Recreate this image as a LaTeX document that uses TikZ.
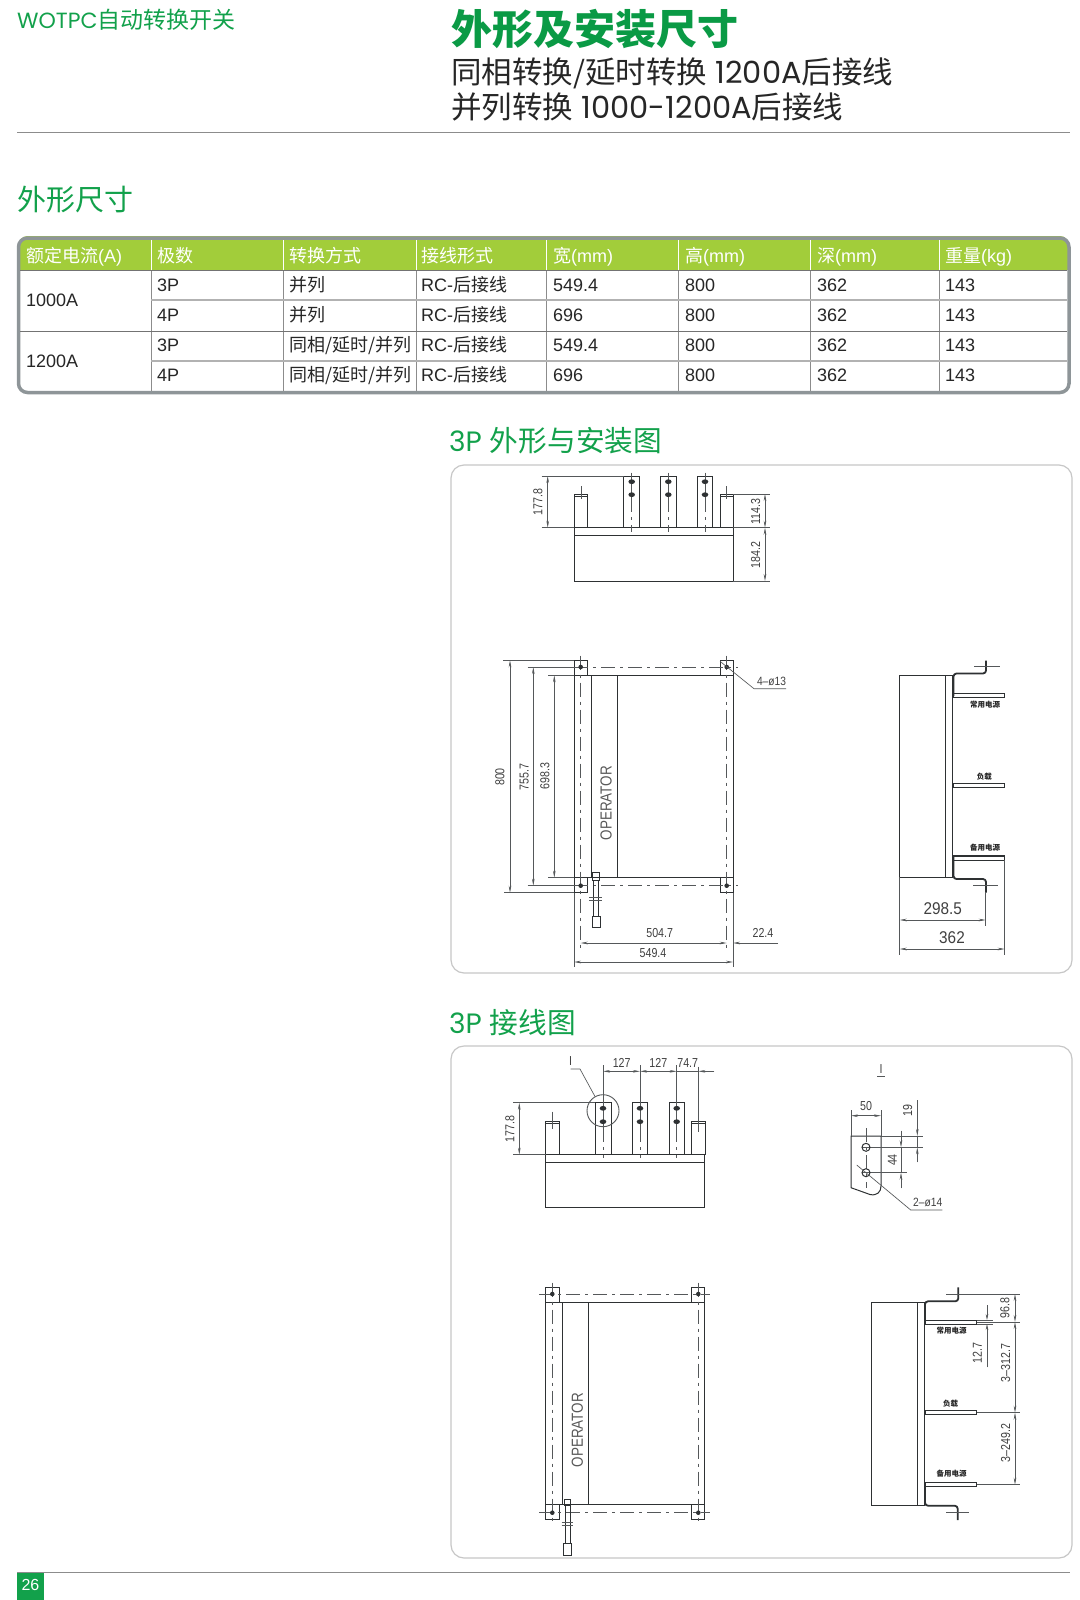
\documentclass[tikz,border=0pt]{standalone}
\usepackage{fontspec}
\setmainfont{Liberation Sans}
\newfontfamily\cj{Noto Sans CJK SC}
\newfontfamily\pop{Poppins}
\usetikzlibrary{arrows.meta}
\definecolor{brandgreen}{HTML}{12A14B}
\definecolor{titlegreen}{HTML}{0A9A45}
\definecolor{headgreen}{HTML}{A2CD3A}
\definecolor{tborder}{HTML}{8E9598}
\definecolor{inkc}{HTML}{2E3133}
\definecolor{thinc}{HTML}{55585A}
\newcommand\fs[1]{\fontsize{#1}{#1}\selectfont}
\tikzset{
  txt/.style={inner sep=0pt,anchor=base west,text=#1},
  txt/.default=black,
  ol/.style={draw=inkc,line width=1pt},
  thk/.style={draw=inkc,line width=1.8pt,line join=round,rounded corners=3pt},
  thn/.style={draw=thinc,line width=0.65pt},
  cen/.style={draw=thinc,line width=0.75pt,dash pattern=on 14pt off 5pt on 3pt off 5pt},
  dimn/.style={thn,{Stealth[length=7pt,width=2.6pt]}-{Stealth[length=7pt,width=2.6pt]}},
  dimt/.style={inner sep=0pt,text=black!75,xscale=.82,font=\fs{13}},
  dimv/.style={rotate=90,dimt},
  panel/.style={draw=black!22,line width=1.2pt,rounded corners=13pt},
  rowt/.style={inner sep=0pt,anchor=base west,font=\fs{18},text=black!85},
  headt/.style={inner sep=0pt,anchor=base west,font=\fs{18},text=white},
  opt/.style={inner sep=0pt,text=black!65,rotate=90,xscale=.84,font=\fs{16}},
  lab/.style={inner sep=0pt,text=black!85,font=\cj\bfseries\fs{7.5}},
  hole/.style={fill=inkc,draw=none},
}
\begin{document}
\begin{tikzpicture}[x=1pt,y=-1pt]
\useasboundingbox (0,0) rectangle (1079,1600);
\fill[white] (0,0) rectangle (1079,1600);

% header
\node[txt=brandgreen,font=\fs{22}] (hd) at (17,29) {{\pop WOTPC}{\cj\fs{23}自动转换开关}};
\node[txt=titlegreen,font=\cj\bfseries\fs{41}] (title) at (451,45) {外形及安装尺寸};
\node[txt=black!85,font=\fs{30.5}] (sub1) at (451,84) {{\cj 同相转换/延时转换} {\pop 1200A}{\cj 后接线}};
\node[txt=black!85,font=\fs{30.5}] (sub2) at (451,119) {{\cj 并列转换} {\pop 1000-1200A}{\cj 后接线}};
\draw[draw=black!45,line width=1pt] (17,133) -- (1070,133);
\node[txt=brandgreen,font=\cj\fs{29}] (sec) at (17,210) {外形尺寸};

% table
\begin{scope}
\clip[rounded corners=9pt] (18.5,236) rectangle (1069,394);
\fill[headgreen] (18.5,236) rectangle (1069,270);
\end{scope}
\draw[tborder,line width=3.5pt,rounded corners=9pt] (18.5,238) rectangle (1069,392.5);
\foreach \x in {151,283,416,546,678,810,939} {
  \draw[white,line width=.8pt] (\x,240) -- (\x,270);
  \draw[black!45,line width=.7pt] (\x,270) -- (\x,391);
}
\draw[black!55,line width=.7pt] (20,270) -- (1067,270);
\draw[black!30,line width=1.1pt] (151,300) -- (1067,300);
\draw[black!55,line width=.8pt] (20,331) -- (1067,331);
\draw[black!30,line width=1.1pt] (151,361) -- (1067,361);

\node[headt] (h1) at (26,262) {{\cj 额定电流}(A)};
\node[headt] (h2) at (157,262) {{\cj 极数}};
\node[headt] (h3) at (289,262) {{\cj 转换方式}};
\node[headt] (h4) at (421,262) {{\cj 接线形式}};
\node[headt] (h5) at (553,262) {{\cj 宽}(mm)};
\node[headt] (h6) at (685,262) {{\cj 高}(mm)};
\node[headt] (h7) at (817,262) {{\cj 深}(mm)};
\node[headt] (h8) at (945,262) {{\cj 重量}(kg)};
\node[rowt] (a1) at (26,306.5) {1000A};
\node[rowt] (a2) at (26,367) {1200A};
\newcommand\trow[4]{%
  \node[rowt] at (157,#1) {#2};
  \node[rowt] at (289,#1) {{\cj #3}};
  \node[rowt] at (421,#1) {RC-{\cj 后接线}};
  \node[rowt] at (553,#1) {#4};
  \node[rowt] at (685,#1) {800};
  \node[rowt] at (817,#1) {362};
  \node[rowt] at (945,#1) {143};
}
\trow{291.5}{3P}{并列}{549.4}
\trow{321.5}{4P}{并列}{696}
\trow{351.5}{3P}{同相/延时/并列}{549.4}
\trow{381.5}{4P}{同相/延时/并列}{696}

% section headings & panels
\node[txt=brandgreen,font=\fs{28}] (s3p) at (449,451) {{\pop 3P}\hspace{8pt}{\cj\fs{28.7}外形与安装图}};
\node[txt=brandgreen,font=\fs{28}] (s3w) at (449,1033) {{\pop 3P}\hspace{8pt}{\cj\fs{28.7}接线图}};
\draw[panel] (451,465) rectangle (1072,973);
\draw[panel] (451,1046) rectangle (1072,1558);

%%% Panel 1 -- top view
\draw[ol] (574,527.7) rectangle (733,581);
\draw[ol] (574,535) -- (733,535);
\foreach \a/\b in {574/587.3,720/733}{
  \draw[ol] (\a,527.7) -- (\a,494) -- (\b,494) -- (\b,527.7);
  \draw[ol] (\a,496) -- (\b,496);
}
\draw[thn] (581,486) -- (581,499);
\draw[thn] (726.5,486) -- (726.5,499);
\foreach \a/\b/\c in {623.7/639/631.7,660.7/676/668.3,697.3/712.7/705}{
  \draw[ol] (\a,527.7) -- (\a,476) -- (\b,476) -- (\b,527.7);
  \draw[thn] (\c,472.7) -- (\c,498);
  \draw[cen] (\c,498) -- (\c,531.7);
  \fill[hole] (\c,481.7) ellipse (3.3 and 2.4);
  \fill[hole] (\c,494.7) ellipse (3.3 and 2.4);
}
\coordinate (t1a) at (547.7,476);
\coordinate (t1b) at (547.7,527.7);
\draw[thn] (541.7,476) -- (623.7,476);
\draw[thn] (541.7,527.7) -- (574,527.7);
\draw[dimn] (t1a) -- (t1b);
\node[dimv] (d1778) at (538,502) {177.8};
\draw[thn] (733,494) -- (770,494);
\draw[thn] (733,527.7) -- (770,527.7);
\draw[thn] (733,581) -- (770,581);
\coordinate (t1c) at (765,494);
\coordinate (t1d) at (765,527.7);
\coordinate (t1e) at (765,581);
\draw[dimn] (t1c) -- (t1d);
\draw[dimn] (t1d) -- (t1e);
\node[dimv] (d1143) at (755.7,512) {114.3};
\node[dimv] (d1842) at (755.7,555) {184.2};

%%% Panel 1 -- front view
\draw[ol] (574,675.3) rectangle (733,877.7);
\draw[ol] (591.3,675.3) -- (591.3,877.7);
\draw[ol] (617,675.3) -- (617,877.7);
\foreach \a/\b in {574/587.3,720/733}{
  \draw[ol] (\a,675.3) -- (\a,660.3) -- (\b,660.3) -- (\b,675.3);
  \draw[ol] (\a,877.7) -- (\a,892.7) -- (\b,892.7) -- (\b,877.7);
}
\draw[cen] (580.7,655.7) -- (580.7,948);
\draw[cen] (726.7,655.7) -- (726.7,948);
\draw[cen] (574,667) -- (738,667);
\draw[cen] (574,885.7) -- (738,885.7);
\foreach \x in {580.7,726.7}\foreach \y in {667,885.7}{\fill[hole] (\x,\y) circle (2.3);}
\node[opt] (op1) at (606,803) {OPERATOR};
% handle
\draw[ol] (592.3,872) rectangle (599,880);
\draw[ol] (593.5,880) -- (593.5,916.7);
\draw[ol] (598,880) -- (598,916.7);
\draw[thn] (589,897) -- (601.7,897);
\draw[thn] (589,900) -- (601.7,900);
\draw[ol] (592,916.7) rectangle (600,927.7);
% dims
\draw[thn] (503.3,660.3) -- (574,660.3);
\draw[thn] (504,892.7) -- (574,892.7);
\draw[thn] (548,675.3) -- (574,675.3);
\draw[thn] (548,877.7) -- (574,877.7);
\draw[thn] (527.7,667) -- (574,667);
\draw[thn] (527.7,885.7) -- (574,885.7);
\coordinate (v8a) at (510,660.3); \coordinate (v8b) at (510,892.7);
\coordinate (v7a) at (533.3,667); \coordinate (v7b) at (533.3,885.7);
\coordinate (v6a) at (554.3,675.3); \coordinate (v6b) at (554.3,877.7);
\draw[dimn] (v8a) -- (v8b);
\draw[dimn] (v7a) -- (v7b);
\draw[dimn] (v6a) -- (v6b);
\node[dimv] (d800) at (500,777) {800};
\node[dimv] (d7557) at (524.3,777) {755.7};
\node[dimv] (d6983) at (545,776) {698.3};
\draw[thn] (574,892.7) -- (574,966.7);
\draw[thn] (733,892.7) -- (733,966.7);
\coordinate (h5a) at (580.7,943); \coordinate (h5b) at (726.7,943);
\coordinate (h2a) at (733,943); \coordinate (h2b) at (778,943);
\coordinate (h4a) at (574,962); \coordinate (h4b) at (733,962);
\draw[dimn] (h5a) -- (h5b);
\draw[thn,-{Stealth[length=7pt,width=2.6pt]}] (h2b) -- (h2a);
\draw[dimn] (h4a) -- (h4b);
\node[dimt] (d5047) at (659.7,933.3) {504.7};
\node[dimt] (d224) at (763,933.3) {22.4};
\node[dimt] (d5494) at (653,952.7) {549.4};
\coordinate (l4a) at (720,661.3); \coordinate (l4b) at (754,688.7); \coordinate (l4c) at (786,688.7);
\draw[thn] (l4a) -- (l4b) -- (l4c);
\node[dimt,xscale=1.04,font=\fs{12}] (d413) at (771.5,681.5) {4{\textendash}ø13};

%%% Panel 1 -- side view
\draw[ol] (899.7,675) rectangle (945,877.3);
\draw[ol] (945,675) -- (952.7,675) -- (952.7,877.3) -- (945,877.3);
\draw[thk] (953.5,696) -- (953.5,673.5) -- (986,673.5) -- (986,660.7);
\draw[thk] (953.5,857) -- (953.5,879) -- (986,879) -- (986,892.5);
\draw[thn] (974.3,666.7) -- (1000,666.7);
\draw[thn] (973,885.7) -- (997.7,885.7);
\foreach \y in {693.3,783.3,856}{\draw[ol] (953.3,\y) rectangle (1004.7,\y+4);}
\draw[ol,line width=1.4pt] (953.3,693.3) -- (1004.7,693.3);
\draw[ol,line width=1.4pt] (953.3,856) -- (1004.7,856);
\node[lab] (l1) at (985,705) {常用电源};
\node[lab] (l2) at (984.3,776.7) {负载};
\node[lab] (l3) at (985,847.3) {备用电源};
\draw[thn] (899.7,877.3) -- (899.7,955);
\draw[thn] (1004.7,860) -- (1004.7,955);
\draw[thn] (985.7,892) -- (985.7,925.7);
\coordinate (s2a) at (899.7,920); \coordinate (s2b) at (985.7,920);
\coordinate (s3a) at (899.7,949); \coordinate (s3b) at (1004.7,949);
\draw[dimn] (s2a) -- (s2b);
\draw[dimn] (s3a) -- (s3b);
\node[dimt,xscale=1.1,font=\fs{17}] (d2985) at (942.7,908.7) {298.5};
\node[dimt,xscale=1.1,font=\fs{17}] (d362) at (952,937.7) {362};

%%% Panel 2 -- top view
\draw[ol] (545.7,1154.7) rectangle (704.7,1207.7);
\draw[ol] (545.7,1162) -- (704.7,1162);
\foreach \a/\b in {545.7/559,691.7/705}{
  \draw[ol] (\a,1154.7) -- (\a,1121) -- (\b,1121) -- (\b,1154.7);
  \draw[ol] (\a,1123) -- (\b,1123);
}
\draw[thn] (552.3,1111.7) -- (552.3,1129.3);
\draw[thn] (698.3,1066.7) -- (698.3,1131.7);
\foreach \a/\b/\c in {595.3/611/603,632.3/647.7/640,669.3/684.7/676.7}{
  \draw[ol] (\a,1154.7) -- (\a,1102.7) -- (\b,1102.7) -- (\b,1154.7);
  \draw[thn] (\c,1065) -- (\c,1128);
  \draw[cen] (\c,1128) -- (\c,1158);
  \fill[hole] (\c,1108.3) ellipse (3.3 and 2.4);
  \fill[hole] (\c,1121.7) ellipse (3.3 and 2.4);
}
\coordinate (r1) at (603,1071.3); \coordinate (r2) at (640,1071.3);
\coordinate (r3) at (676.7,1071.3); \coordinate (r4) at (698.3,1071.3); \coordinate (r5) at (714.3,1071.3);
\draw[dimn] (r1) -- (r2);
\draw[dimn] (r2) -- (r3);
\draw[thn] (r3) -- (r4);
\draw[thn,-{Stealth[length=7pt,width=2.6pt]}] (r5) -- (r4);
\node[dimt] (w127a) at (621.7,1062.7) {127};
\node[dimt] (w127b) at (658.3,1062.7) {127};
\node[dimt] (w747) at (687.7,1062.7) {74.7};
\node[dimt] (idet) at (570.7,1061) {I};
\draw[thn,line width=.9pt] (603,1110.7) circle (16);
\coordinate (ld1) at (570.7,1069); \coordinate (ld2) at (580,1069); \coordinate (ld3) at (595,1096.5);
\draw[thn] (ld1) -- (ld2) -- (ld3);
\draw[thn] (513.3,1102.7) -- (595.3,1102.7);
\draw[thn] (513.3,1154.7) -- (545.7,1154.7);
\coordinate (w1a) at (519.3,1102.7); \coordinate (w1b) at (519.3,1154.7);
\draw[dimn] (w1a) -- (w1b);
\node[dimv] (w1778) at (510,1129) {177.8};

%%% Panel 2 -- detail I
\node[dimt] (idet2) at (881,1069) {I};
\draw[thn] (877,1076.7) -- (885,1076.7);
\draw[ol] (851,1136) -- (851,1187.7) -- (870,1194.5) .. controls (877,1196) and (881,1192) .. (881,1186) -- (881,1136) -- cycle;
\draw[thn] (851,1110) -- (851,1136);
\draw[thn] (881,1110) -- (881,1136);
\draw[thn] (881,1136) -- (923.3,1136);
\draw[thn] (862,1147.3) -- (923.3,1147.3);
\draw[thn] (862,1172.7) -- (907.3,1172.7);
\draw[cen] (866,1128.3) -- (866,1188);
\draw[ol] (866,1147.3) circle (4);
\draw[ol] (866,1172.7) circle (4);
\coordinate (i5a) at (851,1115.7); \coordinate (i5b) at (881,1115.7);
\draw[dimn] (i5a) -- (i5b);
\node[dimt] (i50) at (866,1106) {50};
\coordinate (i1a) at (917.3,1100); \coordinate (i1b) at (917.3,1136);
\coordinate (i1c) at (917.3,1147.3); \coordinate (i1d) at (917.3,1162.3);
\draw[thn] (i1b) -- (i1c);
\draw[thn,-{Stealth[length=7pt,width=2.6pt]}] (i1a) -- (i1b);
\draw[thn,-{Stealth[length=7pt,width=2.6pt]}] (i1d) -- (i1c);
\node[dimv] (i19) at (907.7,1110.7) {19};
\coordinate (i4a) at (901,1130.7); \coordinate (i4b) at (901,1147.3);
\coordinate (i4c) at (901,1172.7); \coordinate (i4d) at (901,1188.3);
\draw[thn] (i4b) -- (i4c);
\draw[thn,-{Stealth[length=7pt,width=2.6pt]}] (i4a) -- (i4b);
\draw[thn,-{Stealth[length=7pt,width=2.6pt]}] (i4d) -- (i4c);
\node[dimv] (i44) at (892.3,1160) {44};
\coordinate (i2a) at (856.7,1165); \coordinate (i2b) at (910.7,1210); \coordinate (i2c) at (942.3,1210);
\draw[thn] (i2a) -- (i2b) -- (i2c);
\node[dimt,xscale=1.04,font=\fs{12}] (i214) at (927.7,1202.3) {2{\textendash}ø14};

%%% Panel 2 -- front view
\draw[ol] (545.7,1302.3) rectangle (704.3,1504.3);
\draw[ol] (562.7,1302.3) -- (562.7,1504.3);
\draw[ol] (588.3,1302.3) -- (588.3,1504.3);
\foreach \a/\b in {545.7/559,691.7/704.3}{
  \draw[ol] (\a,1302.3) -- (\a,1287.3) -- (\b,1287.3) -- (\b,1302.3);
  \draw[ol] (\a,1504.3) -- (\a,1519.3) -- (\b,1519.3) -- (\b,1504.3);
}
\draw[cen] (552.3,1282.7) -- (552.3,1524);
\draw[cen] (698.3,1282.7) -- (698.3,1524);
\draw[cen] (539,1294) -- (710,1294);
\draw[cen] (539,1512.7) -- (710,1512.7);
\foreach \x in {552.3,698.3}\foreach \y in {1294,1512.7}{\fill[hole] (\x,\y) circle (2.3);}
\node[opt] (op2) at (577.3,1430) {OPERATOR};
\draw[ol] (564.3,1499) rectangle (570.7,1505);
\draw[ol] (565,1505) -- (565,1543.3);
\draw[ol] (570,1505) -- (570,1543.3);
\draw[thn] (561.7,1522) -- (573.3,1522);
\draw[thn] (561.7,1525) -- (573.3,1525);
\draw[ol] (563.7,1543.3) rectangle (571.7,1555);

%%% Panel 2 -- side view
\draw[ol] (871,1302) rectangle (917.3,1505);
\draw[ol] (917.3,1302) -- (924.3,1302) -- (924.3,1505) -- (917.3,1505);
\draw[thk] (925,1320) -- (925,1301.3) -- (958.3,1301.3) -- (958.3,1287.3);
\draw[thk] (925,1483.3) -- (925,1505.7) -- (957.7,1505.7) -- (957.7,1520);
\draw[thn] (946,1294) -- (1020.3,1294);
\draw[thn] (946,1512.7) -- (969.3,1512.7);
\foreach \y in {1320,1410.7,1482.7}{\draw[ol] (925,\y) rectangle (976.7,\y+4);}
\draw[thn] (976.7,1320) -- (992.7,1320);
\draw[thn] (976.7,1324) -- (992.7,1324);
\draw[thn] (976.7,1322) -- (1020.3,1322);
\draw[thn] (976.7,1412.7) -- (1020.3,1412.7);
\draw[thn] (976.7,1484.7) -- (1020.3,1484.7);
\node[lab] (m1) at (951.7,1331) {常用电源};
\node[lab] (m2) at (950.7,1403.3) {负载};
\node[lab] (m3) at (951.7,1474) {备用电源};
\coordinate (p1a) at (987,1305); \coordinate (p1b) at (987,1320);
\coordinate (p1c) at (987,1324); \coordinate (p1d) at (987,1367.3);
\draw[thn,-{Stealth[length=6pt,width=2.6pt]}] (p1a) -- (p1b);
\draw[thn,-{Stealth[length=6pt,width=2.6pt]}] (p1d) -- (p1c);
\node[dimv] (p127) at (977.3,1353.3) {12.7};
\coordinate (q1) at (1015,1294); \coordinate (q2) at (1015,1322);
\coordinate (q3) at (1015,1412.7); \coordinate (q4) at (1015,1484.7);
\draw[dimn] (q1) -- (q2);
\draw[dimn] (q2) -- (q3);
\draw[dimn] (q3) -- (q4);
\node[dimv] (q968) at (1005,1308.3) {96.8};
\node[dimv] (q3127) at (1005.7,1363.3) {3{\textendash}312.7};
\node[dimv] (q2492) at (1005.7,1443.3) {3{\textendash}249.2};

%%% footer
\draw[draw=black!45,line width=.9pt] (17,1572) -- (1070,1572);
\fill[brandgreen] (17,1573) rectangle (44,1600);
\node[inner sep=0pt,text=white,font=\fs{16}] (pg) at (30.5,1585) {26};
\end{tikzpicture}
\end{document}
